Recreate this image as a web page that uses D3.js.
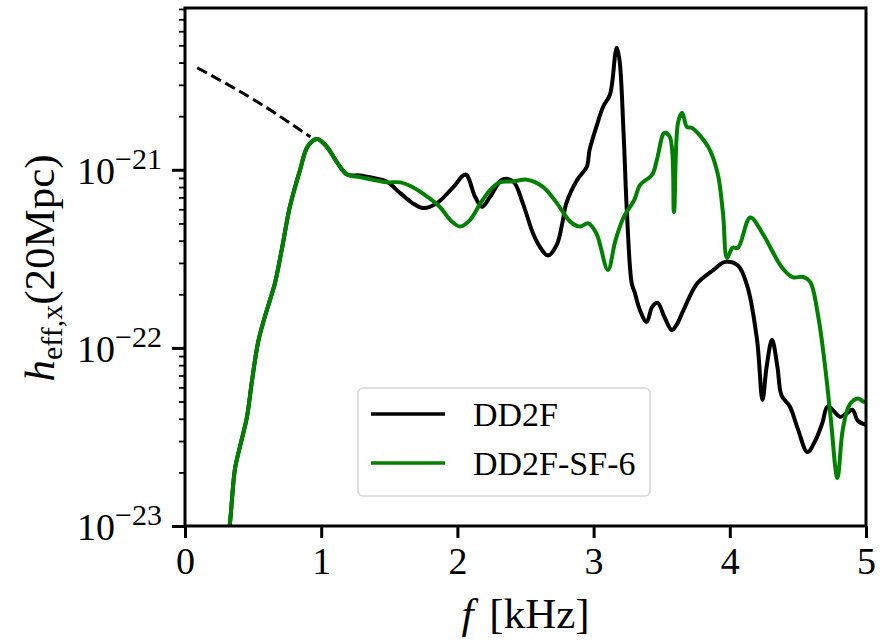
<!DOCTYPE html>
<html>
<head>
<meta charset="utf-8">
<script src="https://cdn.jsdelivr.net/npm/d3@7"></script>
<style>
  body { margin: 0; background: #fff; }
</style>
</head>
<body>
<svg id="chart"></svg>
<script>
// frequency in kHz, strain amplitude h_eff,x at 20 Mpc
const dd2fFreq = [0.30, 0.33, 0.367, 0.404, 0.455, 0.49, 0.536, 0.573, 0.624, 0.66, 0.71, 0.77, 0.845, 0.90, 0.97,
  1.04, 1.12, 1.19, 1.285, 1.38, 1.48, 1.58, 1.67, 1.75, 1.85, 1.97, 2.06, 2.13, 2.18, 2.24, 2.33, 2.41,
  2.48, 2.555, 2.61, 2.665, 2.73, 2.77, 2.80, 2.88, 2.95, 2.97, 3.02, 3.07, 3.12, 3.16, 3.17, 3.19, 3.22,
  3.245, 3.28, 3.30, 3.34, 3.39, 3.43, 3.47, 3.52, 3.575, 3.61, 3.66, 3.76, 3.88, 3.965, 4.06, 4.13, 4.20,
  4.24, 4.27, 4.31, 4.35, 4.38, 4.44, 4.50, 4.57, 4.63, 4.68, 4.72, 4.81, 4.86, 4.90, 4.94, 5.0];
const dd2fH = [7e-24, 1.04e-23, 2.1e-23, 2.8e-23, 4.1e-23, 6.4e-23, 1.07e-22, 1.38e-22, 1.86e-22, 2.3e-22, 3.55e-22, 6.2e-22, 1.0e-21, 1.35e-21, 1.49e-21,
  1.35e-21, 1.09e-21, 9.4e-22, 9.3e-22, 9.0e-22, 8.6e-22, 7.4e-22, 6.5e-22, 6.1e-22, 6.5e-22, 8.0e-22, 9.4e-22, 7.05e-22, 6.2e-22, 7.05e-22, 8.8e-22, 8.6e-22,
  6.5e-22, 4.4e-22, 3.65e-22, 3.3e-22, 3.8e-22, 5.0e-22, 6.5e-22, 8.8e-22, 1.04e-21, 1.29e-21, 1.74e-21, 2.26e-21, 2.64e-21, 4.54e-21, 4.84e-21, 4.15e-21, 1.61e-21,
  5.7e-22, 2.3e-22, 2.07e-22, 1.63e-22, 1.40e-22, 1.70e-22, 1.79e-22, 1.49e-22, 1.26e-22, 1.35e-22, 1.63e-22, 2.3e-22, 2.74e-22, 3.04e-22, 2.9e-22, 2.2e-22, 1.11e-22,
  5.1e-23, 7.8e-23, 1.11e-22, 7.8e-23, 5.4e-23, 4.7e-23, 3.5e-23, 2.6e-23, 3.04e-23, 3.8e-23, 4.7e-23, 4.1e-23, 4.3e-23, 4.5e-23, 3.9e-23, 3.7e-23];

const sfFreq = [0.30, 0.33, 0.367, 0.404, 0.455, 0.49, 0.536, 0.573, 0.624, 0.66, 0.71, 0.77, 0.845, 0.90, 0.97,
  1.04, 1.12, 1.19, 1.285, 1.38, 1.48, 1.58, 1.67, 1.78, 1.87, 1.95, 2.02, 2.09, 2.17, 2.24, 2.31, 2.41,
  2.51, 2.63, 2.73, 2.83, 2.90, 2.96, 3.02, 3.105, 3.16, 3.22, 3.30, 3.34, 3.43, 3.465, 3.52, 3.56, 3.59,
  3.62, 3.65, 3.685, 3.72, 3.84, 3.91, 3.95, 3.98, 4.02, 4.06, 4.15, 4.24, 4.38, 4.46, 4.54, 4.59, 4.65,
  4.70, 4.74, 4.79, 4.83, 4.88, 4.94, 4.98, 5.0];
const sfH = [7e-24, 1.04e-23, 2.1e-23, 2.8e-23, 4.1e-23, 6.4e-23, 1.07e-22, 1.38e-22, 1.86e-22, 2.3e-22, 3.55e-22, 6.2e-22, 1.0e-21, 1.35e-21, 1.49e-21,
  1.35e-21, 1.09e-21, 9.4e-22, 9.1e-22, 8.8e-22, 8.5e-22, 8.5e-22, 8.0e-22, 7.05e-22, 6.2e-22, 5.2e-22, 4.8e-22, 5.2e-22, 6.5e-22, 7.7e-22, 8.5e-22, 8.6e-22,
  8.8e-22, 8.0e-22, 6.5e-22, 5.1e-22, 4.8e-22, 5.0e-22, 4.4e-22, 2.74e-22, 4.0e-22, 5.4e-22, 6.8e-22, 8.2e-22, 9.4e-22, 1.14e-21, 1.61e-21, 1.53e-21, 5.8e-22,
  1.84e-21, 2.09e-21, 1.74e-21, 1.72e-21, 1.35e-21, 9.6e-22, 5.7e-22, 3.2e-22, 3.65e-22, 3.65e-22, 5.4e-22, 4.4e-22, 2.85e-22, 2.5e-22, 2.5e-22, 2.35e-22, 1.49e-22,
  7.8e-23, 4.1e-23, 1.86e-23, 3.5e-23, 4.8e-23, 5.2e-23, 5.0e-23, 5.0e-23];

// low-frequency extrapolation (dashed)
const extFreq = [0.09, 0.53, 0.92];
const extH = [3.74e-21, 2.41e-21, 1.53e-21];

const seriesNames = ["DD2F", "DD2F-SF-6"];
const seriesColors = ["#000000", "#008000"];
const xTicks = [0, 1, 2, 3, 4, 5];
const yMajor = [1e-23, 1e-22, 1e-21];
const yExponents = ["\u221223", "\u221222", "\u221221"];

const serif = "'Liberation Serif', 'Times New Roman', 'DejaVu Serif', serif";
const width = 882, height = 641;
const margin = { left: 185, right: 16, top: 8, bottom: 115 };

const svg = d3.select("#chart")
  .attr("width", width).attr("height", height)
  .attr("font-family", serif);

const x = d3.scaleLinear().domain([0, 5]).range([margin.left, width - margin.right]);
const y = d3.scaleLog().domain([1e-23, 8.1e-21]).range([height - margin.bottom, margin.top]);

svg.append("defs").append("clipPath").attr("id", "clip")
  .append("rect")
  .attr("x", margin.left).attr("y", margin.top)
  .attr("width", width - margin.left - margin.right)
  .attr("height", height - margin.top - margin.bottom);

const smooth = d3.line()
  .x(d => x(d[0]))
  .y(d => y(d[1]))
  .curve(d3.curveCatmullRom.alpha(0.5));
const straight = d3.line()
  .x(d => x(d[0]))
  .y(d => y(d[1]))
  .curve(d3.curveMonotoneX);

const plot = svg.append("g").attr("clip-path", "url(#clip)");

plot.append("path")
  .datum(d3.zip(extFreq, extH))
  .attr("d", straight)
  .attr("fill", "none")
  .attr("stroke", "#000")
  .attr("stroke-width", 3)
  .attr("stroke-dasharray", "11,5");

[[dd2fFreq, dd2fH], [sfFreq, sfH]].forEach(function (s, i) {
  plot.append("path")
    .datum(d3.zip(s[0], s[1]))
    .attr("d", smooth)
    .attr("fill", "none")
    .attr("stroke", seriesColors[i])
    .attr("stroke-width", 4)
    .attr("stroke-linejoin", "round");
});

// x axis
const xAxis = svg.append("g")
  .attr("transform", `translate(0,${height - margin.bottom})`)
  .call(d3.axisBottom(x).tickValues(xTicks).tickSize(12).tickPadding(9).tickFormat(d3.format("d")))
  .attr("font-family", serif);
xAxis.select(".domain").remove();
xAxis.selectAll(".tick line").attr("stroke-width", 3);
xAxis.selectAll(".tick text").attr("font-size", 38).attr("font-family", serif);

// y axis minor ticks
const yMinor = [];
[1e-23, 1e-22, 1e-21].forEach(function (dec) {
  for (let k = 2; k <= 9; k++) {
    const v = dec * k;
    if (v <= 8.1e-21) yMinor.push(v);
  }
});
const yMinorAxis = svg.append("g")
  .attr("transform", `translate(${margin.left},0)`)
  .call(d3.axisLeft(y).tickValues(yMinor).tickSize(6).tickFormat(""));
yMinorAxis.select(".domain").remove();
yMinorAxis.selectAll(".tick line").attr("stroke-width", 1.8);

const yAxis = svg.append("g")
  .attr("transform", `translate(${margin.left},0)`)
  .call(d3.axisLeft(y).tickValues(yMajor).tickSize(13).tickPadding(10).tickFormat(""))
  .attr("font-family", serif);
yAxis.select(".domain").remove();
yAxis.selectAll(".tick line").attr("stroke-width", 3);
yAxis.selectAll(".tick text").each(function (d, i) {
  const t = d3.select(this)
    .attr("font-size", 38)
    .attr("font-family", serif)
    .attr("dy", "0.36em");
  t.append("tspan").text("10");
  t.append("tspan").attr("font-size", 30).attr("dy", -15).text(yExponents[i]);
});

// frame
svg.append("rect")
  .attr("x", margin.left).attr("y", margin.top)
  .attr("width", width - margin.left - margin.right)
  .attr("height", height - margin.top - margin.bottom)
  .attr("fill", "none")
  .attr("stroke", "#000")
  .attr("stroke-width", 3);

// axis labels
const xLabel = svg.append("text")
  .attr("x", x(2.5))
  .attr("y", 628)
  .attr("text-anchor", "middle")
  .attr("font-size", 43);
xLabel.append("tspan").attr("font-style", "italic").text("f");
xLabel.append("tspan").attr("dx", 16).text("[kHz]");

const yLabel = svg.append("text")
  .attr("transform", "translate(54,268) rotate(-90)")
  .attr("text-anchor", "middle")
  .attr("font-size", 43);
yLabel.append("tspan").attr("font-style", "italic").text("h");
yLabel.append("tspan").attr("font-size", 30).attr("dy", 8).text("eff,x");
yLabel.append("tspan").attr("dy", -8).text("(20Mpc)");

// legend
const legend = svg.append("g").attr("transform", "translate(358,388)");
legend.append("rect")
  .attr("width", 292).attr("height", 108)
  .attr("rx", 5)
  .attr("fill", "#fff").attr("fill-opacity", 0.8)
  .attr("stroke", "#d6d6d6").attr("stroke-width", 1.6);
seriesNames.forEach(function (name, i) {
  const row = legend.append("g").attr("transform", `translate(0,${26 + i * 49})`);
  row.append("line")
    .attr("x1", 13).attr("x2", 87)
    .attr("stroke", seriesColors[i]).attr("stroke-width", 3.6);
  row.append("text")
    .attr("x", 115).attr("dy", "0.35em")
    .attr("font-size", 34)
    .text(name);
});
</script>
</body>
</html>
